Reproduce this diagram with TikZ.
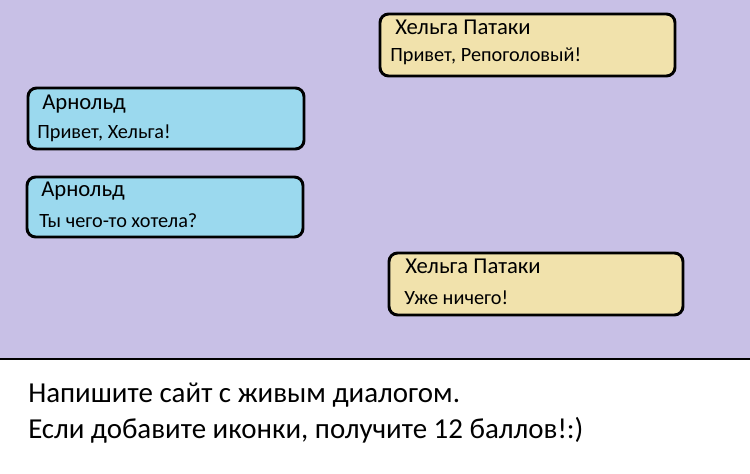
\documentclass[tikz,border=0pt]{standalone}
\usepackage{fontspec}
\setmainfont{Carlito}
\definecolor{bgv}{HTML}{C8C0E6}
\definecolor{bluebox}{HTML}{9BD9EE}
\definecolor{yelbox}{HTML}{F1E2AC}
\tikzset{
  msgbox/.style={draw=black,line width=2.2pt,rounded corners=6.5pt},
  namet/.style={anchor=base west,inner sep=0pt,font=\fontsize{17}{19}\selectfont},
  msgt/.style={anchor=base west,inner sep=0pt,font=\fontsize{15.2}{17}\selectfont},
  bigt/.style={anchor=base west,inner sep=0pt,font=\fontsize{21.7}{24}\selectfont}
}
\begin{document}
\begin{tikzpicture}[x=0.75pt,y=-0.75pt]
\useasboundingbox (0,0) rectangle (750,474);
\fill[white] (0,0) rectangle (750,474);
\fill[bgv] (0,0) rectangle (750,359);
\draw[line width=1.8pt] (0,359) -- (750,359);
\draw[msgbox,fill=yelbox] (380,14) rectangle (675,76);
\draw[msgbox,fill=bluebox] (28,88) rectangle (304,149);
\draw[msgbox,fill=bluebox] (27,177) rectangle (303,237);
\draw[msgbox,fill=yelbox] (389,253) rectangle (683,315);
\node[namet] (n1) at (395,35) {Хельга Патаки};
\node[msgt] (m1) at (390,62) {Привет, Репоголовый!};
\node[namet] (n2) at (42,110) {Арнольд};
\node[msgt] (m2) at (37,139) {Привет, Хельга!};
\node[namet] (n3) at (41,197) {Арнольд};
\node[msgt] (m3) at (39,228) {Ты чего-то хотела?};
\node[namet] (n4) at (405,273) {Хельга Патаки};
\node[msgt] (m4) at (404,304) {Уже ничего!};
\node[bigt] (t1) at (28,402) {Напишите сайт с живым диалогом.};
\node[bigt] (t2) at (28,438) {Если добавите иконки, получите 12 баллов!:)};
\end{tikzpicture}
\end{document}
